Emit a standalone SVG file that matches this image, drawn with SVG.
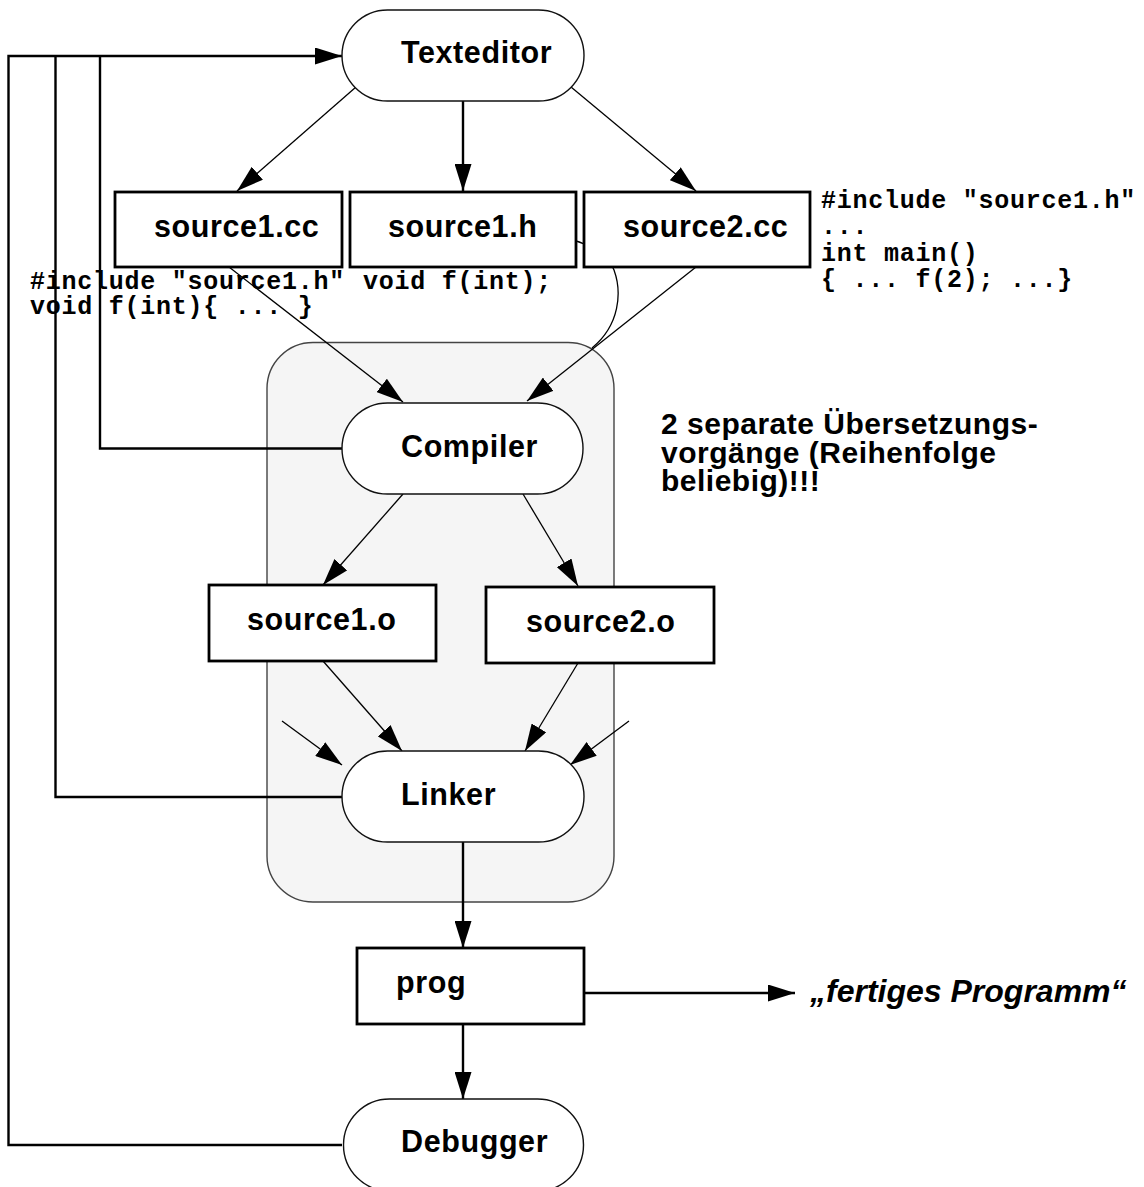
<svg xmlns="http://www.w3.org/2000/svg" width="1144" height="1187" viewBox="0 0 1144 1187">
<style>
.bg{fill:#ffffff}
.term{fill:#ffffff;stroke:#111;stroke-width:1.4}
.box{fill:#ffffff;stroke:#000;stroke-width:2.8}
.cont{fill:#f5f5f5;stroke:#444;stroke-width:1.4}
.lbl{font-family:"Liberation Sans",Arial,sans-serif;font-weight:bold;font-size:30.5px;letter-spacing:0.6px;fill:#000}
.code{font-family:"Liberation Mono","Courier New",monospace;font-weight:bold;font-size:25px;letter-spacing:0.75px;fill:#000}
.note{font-family:"Liberation Sans",Arial,sans-serif;font-weight:bold;font-size:30px;letter-spacing:0.5px;fill:#000}
.ital{font-family:"Liberation Sans",Arial,sans-serif;font-weight:bold;font-style:italic;font-size:32px;fill:#000}
.thin{fill:none;stroke:#000;stroke-width:1.3}
.thick{fill:none;stroke:#000;stroke-width:2.4}
</style>
<defs>
<marker id="ah" markerUnits="userSpaceOnUse" markerWidth="27" markerHeight="17" refX="27" refY="8.5" orient="auto" viewBox="0 0 27 17">
<path d="M0,0 L27,8.5 L0,17 z" fill="#000"/>
</marker>
</defs>
<rect class="bg" x="0" y="0" width="1144" height="1187"/>

<g id="container">
<rect class="cont" x="267" y="342.5" width="347" height="559.5" rx="46" ry="46"/>
</g>

<g id="connectors">
<polyline class="thick" points="342,1145 8.5,1145 8.5,56 342,56" marker-end="url(#ah)"/>
<polyline class="thick" points="342,797 55.5,797 55.5,56"/>
<polyline class="thick" points="342,448.5 100,448.5 100,56"/>
<line class="thin" x1="356" y1="87" x2="237" y2="191" marker-end="url(#ah)"/>
<line class="thick" x1="463" y1="101" x2="463" y2="191" marker-end="url(#ah)"/>
<line class="thin" x1="571" y1="87" x2="696" y2="191" marker-end="url(#ah)"/>
<line class="thin" x1="229" y1="267" x2="403" y2="402" marker-end="url(#ah)"/>
<line class="thin" x1="696" y1="267" x2="527" y2="401" marker-end="url(#ah)"/>
<path class="thin" d="M538,236 C578,236 606,250 614,270 C622,292 620,325 592,348"/>
<line class="thin" x1="403" y1="494" x2="323" y2="585" marker-end="url(#ah)"/>
<line class="thin" x1="523" y1="494" x2="578" y2="586" marker-end="url(#ah)"/>
<line class="thin" x1="323" y1="661" x2="402" y2="751" marker-end="url(#ah)"/>
<line class="thin" x1="578" y1="663" x2="525" y2="751" marker-end="url(#ah)"/>
<line class="thin" x1="282" y1="721" x2="342" y2="765" marker-end="url(#ah)"/>
<line class="thin" x1="629" y1="721" x2="570" y2="765" marker-end="url(#ah)"/>
<line class="thick" x1="463" y1="842" x2="463" y2="948" marker-end="url(#ah)"/>
<line class="thick" x1="463" y1="1024" x2="463" y2="1099" marker-end="url(#ah)"/>
<line class="thick" x1="584" y1="993" x2="795" y2="993" marker-end="url(#ah)"/>
</g>

<g id="texteditor">
<rect class="term" x="342" y="10" width="242" height="91" rx="45.5" ry="45.5"/>
<text class="lbl" x="401" y="63">Texteditor</text>
</g>
<g id="source1cc">
<rect class="box" x="115" y="192" width="227" height="75"/>
<text class="lbl" x="154" y="237">source1.cc</text>
</g>
<g id="source1h">
<rect class="box" x="350" y="192" width="226" height="75"/>
<text class="lbl" x="388" y="237">source1.h</text>
</g>
<g id="source2cc">
<rect class="box" x="584" y="192" width="226" height="75"/>
<text class="lbl" x="623" y="237">source2.cc</text>
</g>
<g id="compiler">
<rect class="term" x="342" y="403" width="241" height="91" rx="45.5" ry="45.5"/>
<text class="lbl" x="401" y="457">Compiler</text>
</g>
<g id="source1o">
<rect class="box" x="209" y="585" width="227" height="76"/>
<text class="lbl" x="247" y="630">source1.o</text>
</g>
<g id="source2o">
<rect class="box" x="486" y="587" width="228" height="76"/>
<text class="lbl" x="526" y="632">source2.o</text>
</g>
<g id="linker">
<rect class="term" x="342" y="751" width="242" height="91" rx="45.5" ry="45.5"/>
<text class="lbl" x="401" y="805">Linker</text>
</g>
<g id="prog">
<rect class="box" x="357" y="948" width="227" height="76"/>
<text class="lbl" x="396" y="993">prog</text>
</g>
<g id="debugger">
<rect class="term" x="343.5" y="1099" width="240" height="92" rx="46" ry="46"/>
<text class="lbl" x="401" y="1152">Debugger</text>
</g>

<g id="code-source1cc">
<text class="code" x="30" y="289">#include "source1.h"</text>
<text class="code" x="30" y="314">void f(int){ ... }</text>
</g>
<g id="code-source1h">
<text class="code" x="363" y="289">void f(int);</text>
</g>
<g id="code-source2cc">
<text class="code" x="821" y="208">#include "source1.h"</text>
<text class="code" x="821" y="234">...</text>
<text class="code" x="821" y="261">int main()</text>
<text class="code" x="821" y="287">{ ... f(2); ...}</text>
</g>
<g id="note">
<text class="note" x="661" y="434">2 separate Übersetzungs-</text>
<text class="note" x="661" y="463">vorgänge (Reihenfolge</text>
<text class="note" x="661" y="491">beliebig)!!!</text>
</g>
<g id="result">
<text class="ital" x="810" y="1002">„fertiges Programm“</text>
</g>
</svg>
